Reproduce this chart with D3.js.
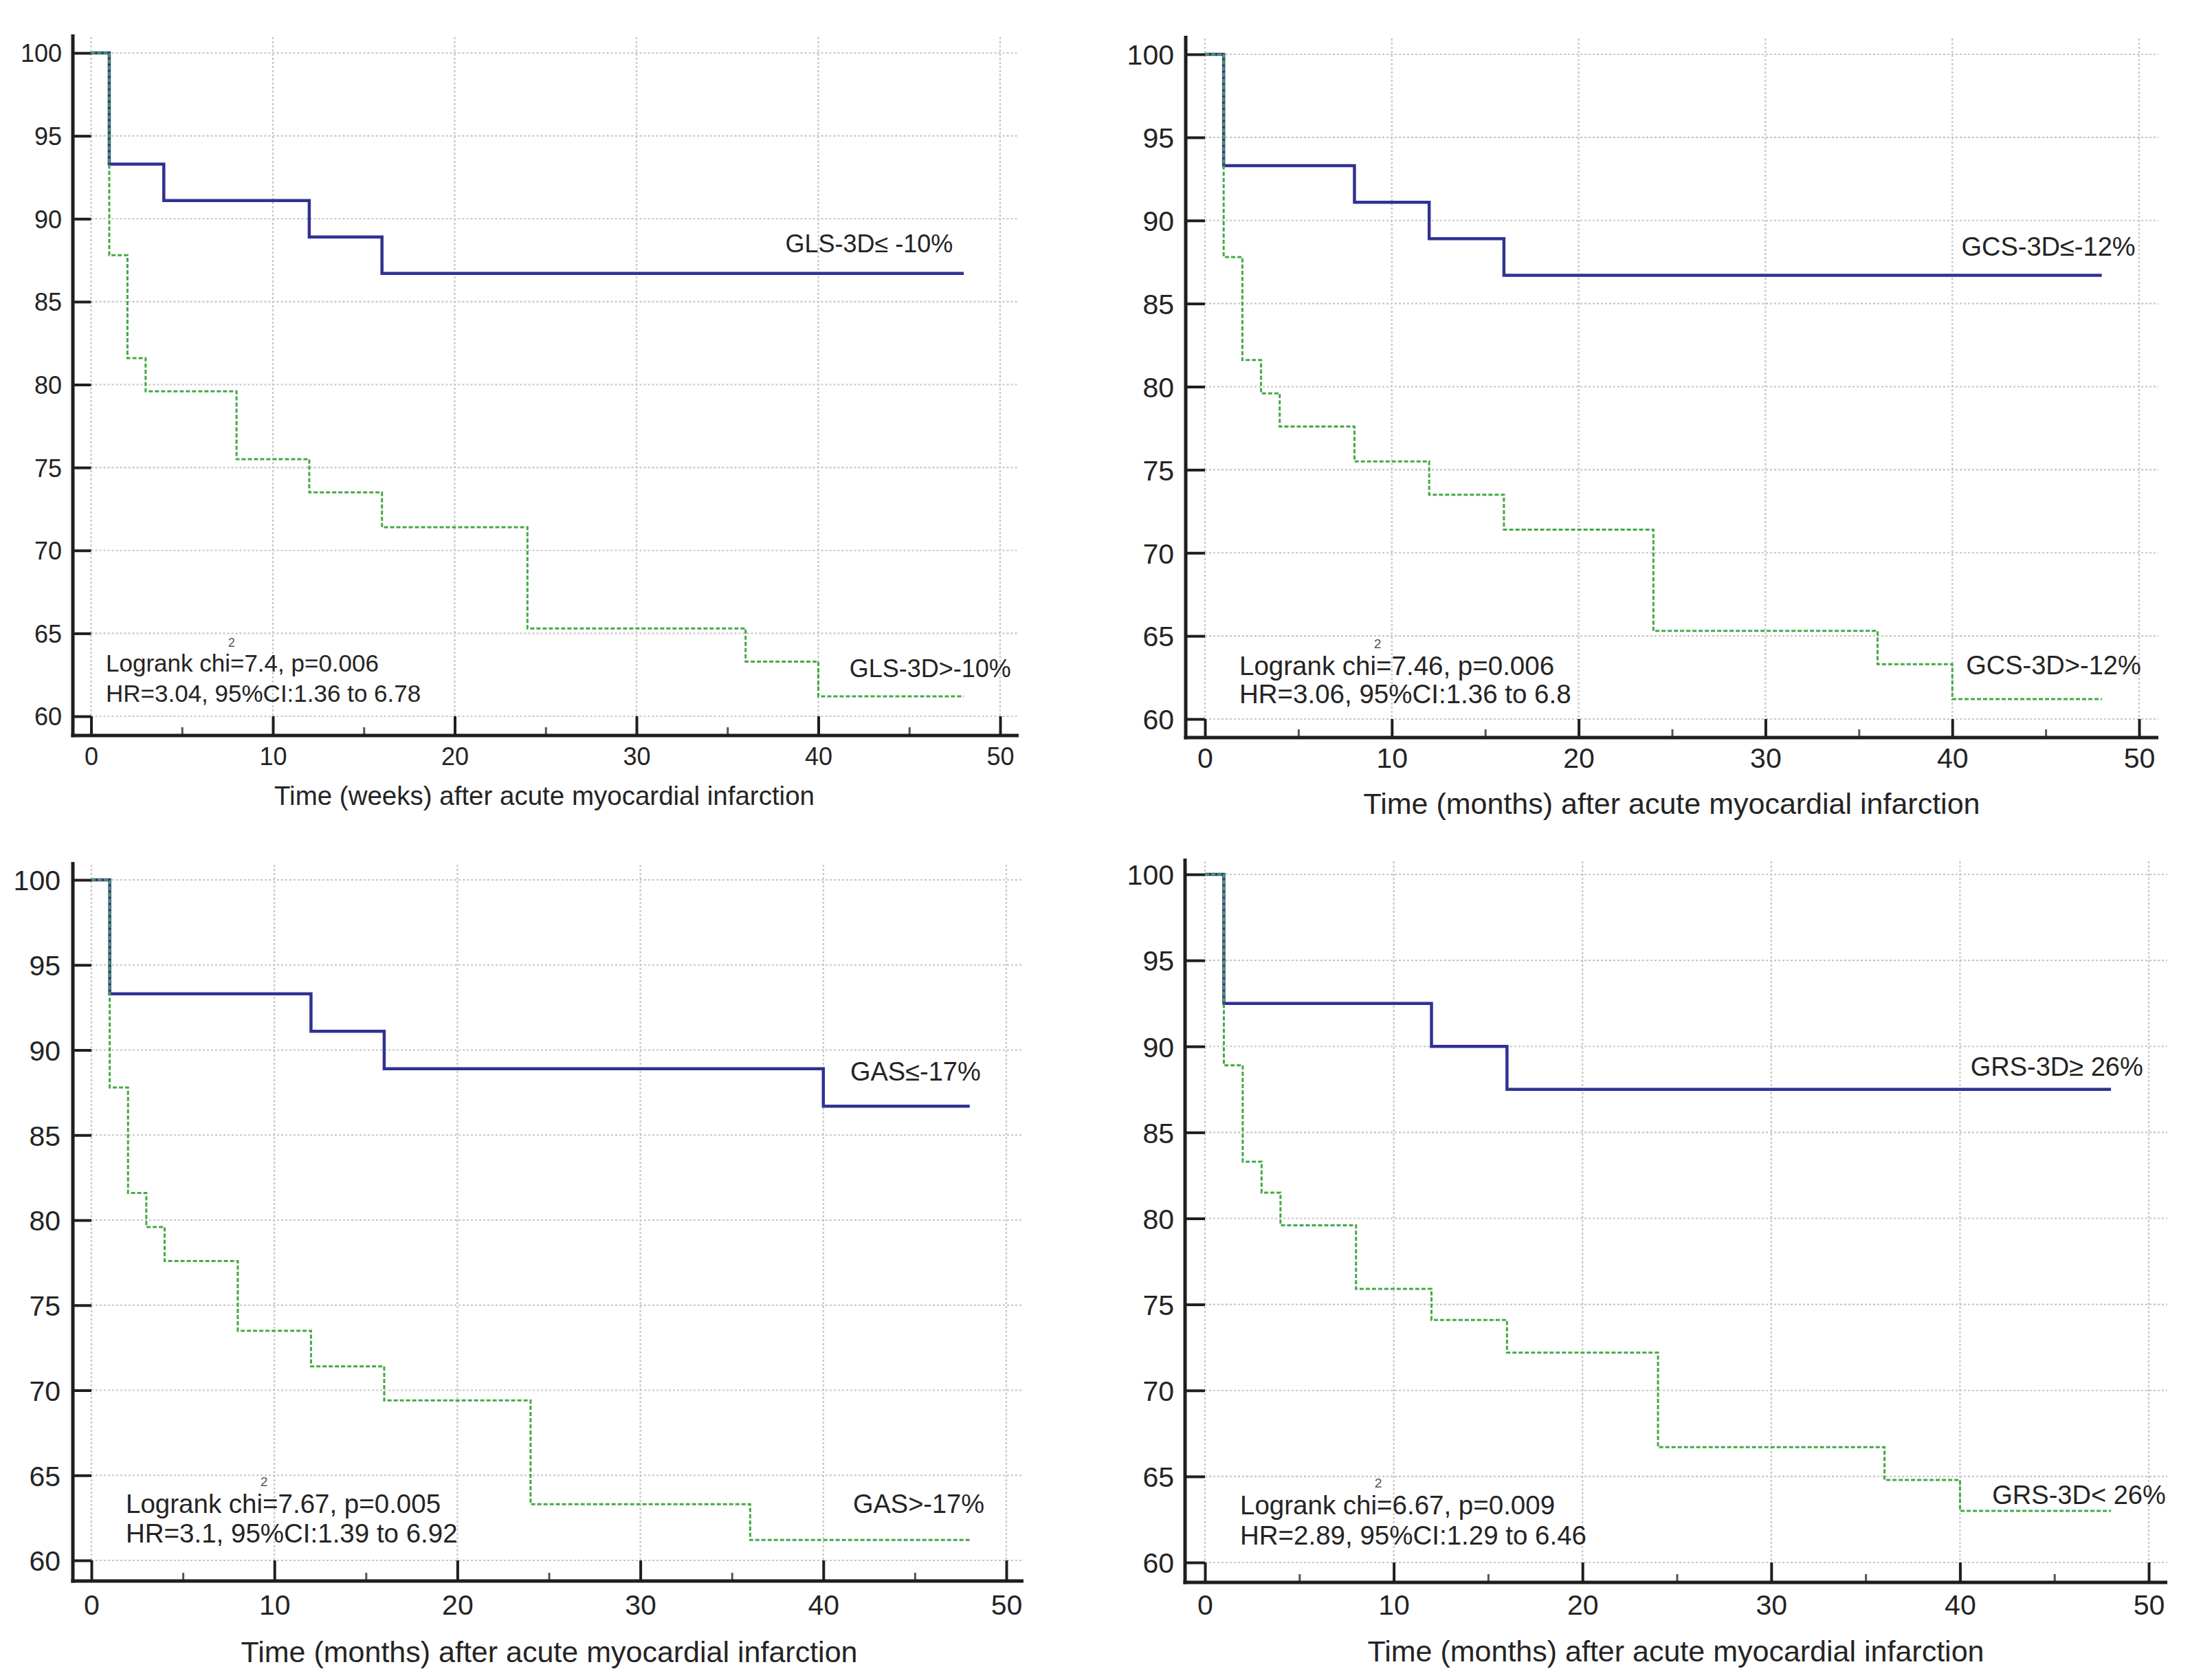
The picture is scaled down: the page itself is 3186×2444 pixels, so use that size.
<!DOCTYPE html>
<html>
<head>
<meta charset="utf-8">
<script src="https://cdn.jsdelivr.net/npm/d3@7"></script>
<style>
html,body{margin:0;padding:0;background:#fff;}
svg{display:block;}
</style>
</head>
<body>
<svg id="chart" width="3186" height="2444"></svg>
<script>
// ---------------- DATA ----------------
const xTickValues = [0, 10, 20, 30, 40, 50];
const xMinorTickValues = [5, 15, 25, 35, 45];
const yTickValues = [60, 65, 70, 75, 80, 85, 90, 95, 100];

// Panel 1: GLS-3D (weeks)
const glsGoodTime = [0, 1, 4, 12, 16, 48];
const glsGoodSurv = [100, 93.3, 91.1, 88.9, 86.7, 86.7];
const glsPoorTime = [0, 1, 2, 3, 8, 12, 16, 24, 36, 40, 48];
const glsPoorSurv = [100, 87.8, 81.6, 79.6, 75.5, 73.5, 71.4, 65.3, 63.3, 61.2, 61.2];

// Panel 2: GCS-3D (months)
const gcsGoodTime = [0, 1, 8, 12, 16, 48];
const gcsGoodSurv = [100, 93.3, 91.1, 88.9, 86.7, 86.7];
const gcsPoorTime = [0, 1, 2, 3, 4, 8, 12, 16, 24, 36, 40, 48];
const gcsPoorSurv = [100, 87.8, 81.6, 79.6, 77.6, 75.5, 73.5, 71.4, 65.3, 63.3, 61.2, 61.2];

// Panel 3: GAS (months)
const gasGoodTime = [0, 1, 12, 16, 40, 48];
const gasGoodSurv = [100, 93.3, 91.1, 88.9, 86.7, 86.7];
const gasPoorTime = [0, 1, 2, 3, 4, 8, 12, 16, 24, 36, 48];
const gasPoorSurv = [100, 87.8, 81.6, 79.6, 77.6, 73.5, 71.4, 69.4, 63.3, 61.2, 61.2];

// Panel 4: GRS-3D (months)
const grsGoodTime = [0, 1, 12, 16, 48];
const grsGoodSurv = [100, 92.5, 90.0, 87.5, 87.5];
const grsPoorTime = [0, 1, 2, 3, 4, 8, 12, 16, 24, 36, 40, 48];
const grsPoorSurv = [100, 88.9, 83.3, 81.5, 79.6, 75.9, 74.1, 72.2, 66.7, 64.8, 63.0, 63.0];

const goodLabels = ["GLS-3D\u2264 -10%", "GCS-3D\u2264-12%", "GAS\u2264-17%", "GRS-3D\u2265 26%"];
const poorLabels = ["GLS-3D>-10%", "GCS-3D>-12%", "GAS>-17%", "GRS-3D< 26%"];
const xTitles = [
  "Time (weeks) after acute myocardial infarction",
  "Time (months) after acute myocardial infarction",
  "Time (months) after acute myocardial infarction",
  "Time (months) after acute myocardial infarction"
];
const chiValues = ["7.4", "7.46", "7.67", "6.67"];
const pValues = ["0.006", "0.006", "0.005", "0.009"];
const hrLines = [
  "HR=3.04, 95%CI:1.36 to 6.78",
  "HR=3.06, 95%CI:1.36 to 6.8",
  "HR=3.1, 95%CI:1.39 to 6.92",
  "HR=2.89, 95%CI:1.29 to 6.46"
];

const goodSeries = [[glsGoodTime, glsGoodSurv], [gcsGoodTime, gcsGoodSurv], [gasGoodTime, gasGoodSurv], [grsGoodTime, grsGoodSurv]];
const poorSeries = [[glsPoorTime, glsPoorSurv], [gcsPoorTime, gcsPoorSurv], [gasPoorTime, gasPoorSurv], [grsPoorTime, grsPoorSurv]];

// ---------------- LAYOUT (pixels / label anchors) ----------------
const layout = [
  {axisX:106, x0:132.5, x50:1455, y100:77, y60:1042, axisY:1070, axisTop:50, axisRight:1482,
   tickFont:36, titleFont:38.5, annotFont:35, labelFont:36, tickLabelRight:90, xTickBaseline:1113,
   titleX:792, titleY:1171, annotX:154, annotY1:977, annotY2:1021,
   goodLab:[47.4, 88.0], poorLab:[50.6, 62.35]},
  {axisX:1725, x0:1753, x50:3112, y100:79, y60:1046, axisY:1073, axisTop:52, axisRight:3140,
   tickFont:41, titleFont:43, annotFont:38.5, labelFont:38, tickLabelRight:1708, xTickBaseline:1117,
   titleX:2432, titleY:1184, annotX:1803, annotY1:982, annotY2:1023,
   goodLab:[49.8, 87.9], poorLab:[50.1, 62.7]},
  {axisX:106, x0:133, x50:1464, y100:1280, y60:2270, axisY:2300, axisTop:1254, axisRight:1489,
   tickFont:41, titleFont:43, annotFont:38.5, labelFont:38, tickLabelRight:88, xTickBaseline:2349,
   titleX:799, titleY:2418, annotX:183, annotY1:2201, annotY2:2244,
   goodLab:[48.6, 88.2], poorLab:[48.8, 62.77]},
  {axisX:1724, x0:1753, x50:3126, y100:1272, y60:2273, axisY:2302, axisTop:1249, axisRight:3153,
   tickFont:41, titleFont:43, annotFont:38.5, labelFont:38, tickLabelRight:1708, xTickBaseline:2349,
   titleX:2438, titleY:2417, annotX:1804, annotY1:2203, annotY2:2247,
   goodLab:[49.7, 88.3], poorLab:[50.9, 63.4]}
];

const FONT = "'Liberation Sans', Arial, Helvetica, sans-serif";
const TEXT_COLOR = "#242424";
const AXIS_COLOR = "#1e1e1e";
const GRID_COLOR = "#c6c6c6";
const BLUE = "#2f3293";
const GREEN = "#45a845";

const svg = d3.select("#chart");
svg.append("rect").attr("width", 3186).attr("height", 2444).attr("fill", "#fff");

function drawPanel(i) {
  const L = layout[i];
  const g = svg.append("g");
  const x = d3.scaleLinear().domain([0, 50]).range([L.x0, L.x50]);
  const y = d3.scaleLinear().domain([60, 100]).range([L.y60, L.y100]);

  // gridlines
  const grid = g.append("g").attr("stroke", GRID_COLOR).attr("stroke-width", 2.2).attr("stroke-dasharray", "3,3");
  grid.selectAll("line.v").data(xTickValues).join("line")
    .attr("x1", d => x(d)).attr("x2", d => x(d))
    .attr("y1", L.axisTop + 4).attr("y2", L.y60);
  grid.selectAll("line.h").data(yTickValues).join("line")
    .attr("y1", d => y(d)).attr("y2", d => y(d))
    .attr("x1", x(0)).attr("x2", L.axisRight);

  // y axis
  const yAxis = d3.axisLeft(y).tickValues(yTickValues)
    .tickSizeInner(-(L.x0 - L.axisX)).tickSizeOuter(0)
    .tickPadding(L.axisX - L.tickLabelRight);
  const yg = g.append("g").attr("transform", `translate(${L.axisX},0)`).call(yAxis);
  yg.select(".domain").remove();
  yg.attr("font-family", FONT).attr("font-size", L.tickFont).attr("color", AXIS_COLOR);
  yg.selectAll("line").attr("stroke-width", 4);
  yg.selectAll("text").attr("fill", TEXT_COLOR).attr("dy", "0.36em");

  // x axis major
  const xAxis = d3.axisBottom(x).tickValues(xTickValues)
    .tickSizeInner(-(L.axisY - L.y60)).tickSizeOuter(0)
    .tickPadding(0);
  const xg = g.append("g").attr("transform", `translate(0,${L.axisY})`).call(xAxis);
  xg.select(".domain").remove();
  xg.attr("font-family", FONT).attr("font-size", L.tickFont).attr("color", AXIS_COLOR);
  xg.selectAll("line").attr("stroke-width", 4);
  xg.selectAll("text").attr("fill", TEXT_COLOR).attr("dy", null).attr("y", L.xTickBaseline - L.axisY);

  // x axis minor
  const xMinor = d3.axisBottom(x).tickValues(xMinorTickValues)
    .tickSizeInner(-12).tickSizeOuter(0).tickFormat("");
  const xm = g.append("g").attr("transform", `translate(0,${L.axisY})`).call(xMinor);
  xm.select(".domain").remove();
  xm.attr("color", "#555");
  xm.selectAll("line").attr("stroke-width", 3);

  // axis lines
  g.append("line").attr("x1", L.axisX).attr("x2", L.axisX)
    .attr("y1", L.axisTop).attr("y2", L.axisY + 2.5)
    .attr("stroke", AXIS_COLOR).attr("stroke-width", 5);
  g.append("line").attr("x1", L.axisX - 2.5).attr("x2", L.axisRight)
    .attr("y1", L.axisY).attr("y2", L.axisY)
    .attr("stroke", AXIS_COLOR).attr("stroke-width", 5);

  // curves
  const line = d3.line().x(d => x(d[0])).y(d => y(d[1])).curve(d3.curveStepAfter);
  const good = d3.zip(goodSeries[i][0], goodSeries[i][1]);
  const poor = d3.zip(poorSeries[i][0], poorSeries[i][1]);
  g.append("path").datum(good).attr("d", line)
    .attr("fill", "none").attr("stroke", BLUE).attr("stroke-width", 4.5);
  g.append("path").datum(poor).attr("d", line)
    .attr("fill", "none").attr("stroke", GREEN).attr("stroke-width", 3)
    .attr("stroke-dasharray", "6,3");

  // curve labels
  g.append("text").attr("x", x(L.goodLab[0])).attr("y", y(L.goodLab[1]))
    .attr("text-anchor", "end").attr("font-family", FONT).attr("font-size", L.labelFont)
    .attr("fill", TEXT_COLOR).text(goodLabels[i]);
  g.append("text").attr("x", x(L.poorLab[0])).attr("y", y(L.poorLab[1]))
    .attr("text-anchor", "end").attr("font-family", FONT).attr("font-size", L.labelFont)
    .attr("fill", TEXT_COLOR).text(poorLabels[i]);

  // annotation
  g.append("text").attr("x", L.annotX).attr("y", L.annotY1)
    .attr("font-family", FONT).attr("font-size", L.annotFont).attr("fill", TEXT_COLOR)
    .text(`Logrank chi=${chiValues[i]}, p=${pValues[i]}`);
  const meas = g.append("text").attr("x", 0).attr("y", -100)
    .attr("font-family", FONT).attr("font-size", L.annotFont).text("Logrank chi");
  const chiLen = meas.node().getComputedTextLength();
  meas.remove();
  g.append("text").attr("x", L.annotX + chiLen + 2).attr("y", L.annotY1 - 1.02 * L.annotFont)
    .attr("text-anchor", "middle").attr("font-family", FONT)
    .attr("font-size", L.annotFont * 0.5).attr("fill", "#555").text("2");
  g.append("text").attr("x", L.annotX).attr("y", L.annotY2)
    .attr("font-family", FONT).attr("font-size", L.annotFont).attr("fill", TEXT_COLOR)
    .text(hrLines[i]);

  // axis title
  g.append("text").attr("x", L.titleX).attr("y", L.titleY)
    .attr("text-anchor", "middle").attr("font-family", FONT).attr("font-size", L.titleFont)
    .attr("fill", TEXT_COLOR).text(xTitles[i]);
}

for (let i = 0; i < 4; i++) drawPanel(i);
</script>
</body>
</html>
